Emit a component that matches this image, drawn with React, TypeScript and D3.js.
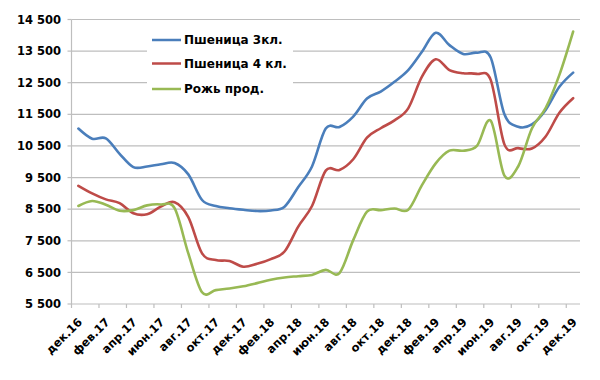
import React from "react";
import * as d3 from "d3";

const months = [
  "дек.16","янв.17","фев.17","мар.17","апр.17","май.17","июн.17","июл.17","авг.17","сен.17","окт.17","ноя.17",
  "дек.17","янв.18","фев.18","мар.18","апр.18","май.18","июн.18","июл.18","авг.18","сен.18","окт.18","ноя.18",
  "дек.18","янв.19","фев.19","мар.19","апр.19","май.19","июн.19","июл.19","авг.19","сен.19","окт.19","ноя.19","дек.19",
];

const wheat3 = [
  11050, 10730, 10740, 10250, 9830, 9850, 9920, 9960, 9600, 8790, 8600, 8530,
  8480, 8440, 8460, 8580, 9200, 9850, 11050, 11100, 11430, 12000, 12220, 12530,
  12900, 13480, 14080, 13690, 13410, 13450, 13300, 11500, 11110, 11180, 11640, 12370, 12820,
];

const wheat4 = [
  9240, 9000, 8810, 8690, 8370, 8340, 8580, 8720, 8250, 7100, 6890, 6860,
  6680, 6770, 6920, 7160, 7950, 8600, 9720, 9740, 10080, 10760, 11060, 11310,
  11690, 12690, 13240, 12900, 12800, 12780, 12590, 10550, 10430, 10420, 10800, 11550, 12010,
];

const rye = [
  8600, 8760, 8640, 8450, 8470, 8620, 8650, 8530, 7100, 5870, 5940, 5990,
  6060, 6160, 6270, 6340, 6380, 6420, 6580, 6480, 7520, 8420, 8470, 8520,
  8480, 9260, 9950, 10350, 10350, 10500, 11300, 9560, 9850, 11050, 11700, 12750, 14120,
];

const seriesNames = ["Пшеница 3кл.", "Пшеница 4 кл.", "Рожь прод."];
const seriesColors = ["#4A7EBB", "#BE4B48", "#98B954"];
const yTicks = [5500, 6500, 7500, 8500, 9500, 10500, 11500, 12500, 13500, 14500];

const fmt = (v: number) => {
  const s = String(v);
  return s.length > 3 ? s.slice(0, s.length - 3) + " " + s.slice(-3) : s;
};

export default function App() {
  const W = 600, H = 380;
  const left = 71.5, right = 580, top = 19.5, bottom = 304;
  const font = "'DejaVu Sans', Verdana, sans-serif";

  const x = d3.scaleBand<string>().domain(months).range([left, right]).paddingInner(0).paddingOuter(0);
  const y = d3.scaleLinear().domain([5500, 14500]).range([bottom, top]);
  const cx = (m: string) => (x(m) as number) + x.bandwidth() / 2;

  const line = d3
    .line<number>()
    .x((_, i) => cx(months[i]))
    .y((d) => y(d))
    .curve(d3.curveCatmullRom.alpha(0));

  const allSeries = [wheat3, wheat4, rye];
  const tickIdx = d3.range(0, months.length + 1, 2);

  return (
    <svg width={W} height={H} style={{ position: "absolute", left: 0, top: 0, background: "#fff" }}>
      {yTicks.map((t) => (
        <g key={t}>
          {t !== 5500 && (
            <line x1={left} x2={right} y1={y(t)} y2={y(t)} stroke="#BEBEBE" strokeWidth={1.2} />
          )}
          <line x1={left - 4} x2={left} y1={y(t)} y2={y(t)} stroke="#BEBEBE" strokeWidth={1.2} />
          <text
            x={61}
            y={y(t)}
            dy="0.36em"
            textAnchor="end"
            fontFamily={font}
            fontWeight="bold"
            fontSize={11.5}
            fill="#000"
          >
            {fmt(t)}
          </text>
        </g>
      ))}
      <line x1={left} x2={left} y1={top} y2={bottom} stroke="#BEBEBE" strokeWidth={1.2} />
      <line x1={left} x2={right} y1={bottom} y2={bottom} stroke="#BEBEBE" strokeWidth={1.2} />
      {tickIdx.map((k) => {
        const xx = left + k * x.bandwidth();
        return <line key={k} x1={xx} x2={xx} y1={bottom} y2={bottom + 4} stroke="#BEBEBE" strokeWidth={1.2} />;
      })}
      {months.map((m, i) =>
        i % 2 === 0 ? (
          <text
            key={m}
            transform={`translate(${cx(m) + 1.5},${bottom + 16}) rotate(-45)`}
            textAnchor="end"
            dy="0.36em"
            fontFamily={font}
            fontWeight="bold"
            fontSize={11.5}
            fill="#000"
          >
            {m}
          </text>
        ) : null
      )}
      <rect x={147} y={26} width={146} height={74} fill="#fff" />
      {seriesNames.map((n, i) => {
        const ly = [40, 63.5, 89][i];
        return (
          <g key={n}>
            <line x1={152} x2={181} y1={ly} y2={ly} stroke={seriesColors[i]} strokeWidth={2.5} />
            <text
              x={184}
              y={ly}
              dy="0.36em"
              fontFamily={font}
              fontWeight="bold"
              fontSize={12}
              fill="#000"
            >
              {n}
            </text>
          </g>
        );
      })}
      {allSeries.map((s, i) => (
        <path
          key={i}
          d={line(s) || ""}
          fill="none"
          stroke={seriesColors[i]}
          strokeWidth={2.6}
          strokeLinejoin="round"
          strokeLinecap="round"
        />
      ))}
    </svg>
  );
}
